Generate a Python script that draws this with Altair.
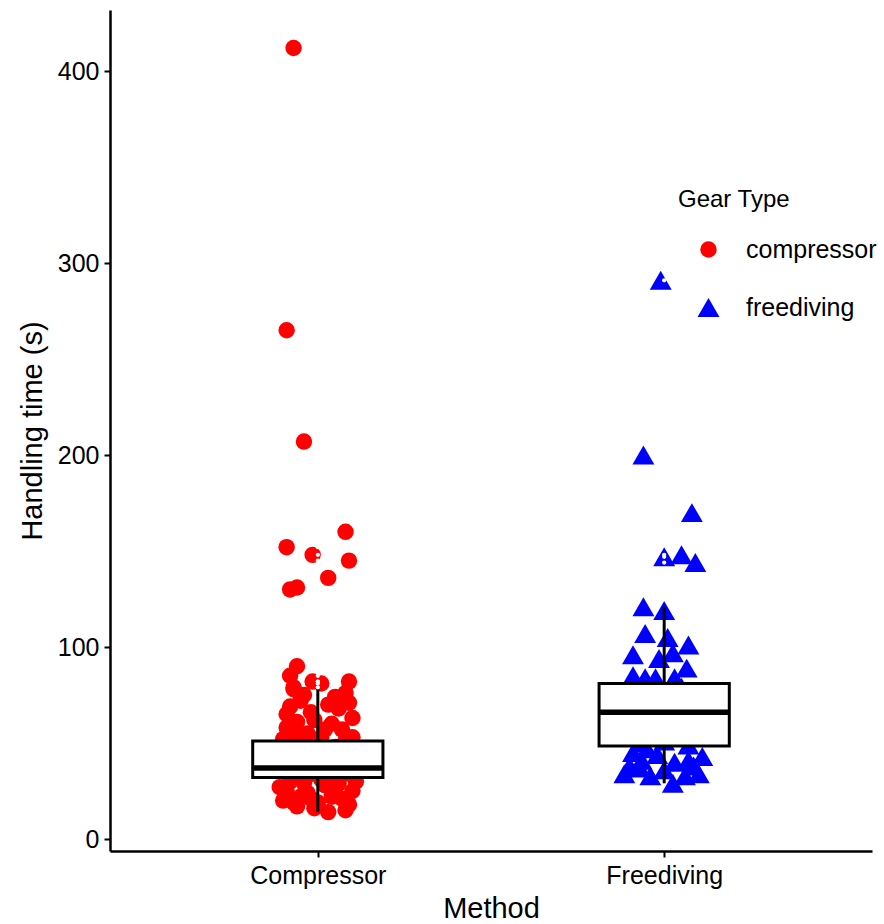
import altair as alt
import pandas as pd

methods = ["Compressor", "Freediving"]
gears = ["compressor", "freediving"]
gear_colors = ["#FF0000", "#0000FF"]

# jitter offsets (category units) and handling times
comp_jitter = [-0.07, -0.09, -0.04, 0.08, -0.09, -0.015, 0.09, 0.03, -0.06, -0.08,
               -0.06, -0.08, -0.015, 0.01, 0.09, -0.07,
               -0.07, 0.08, -0.09, 0.10, -0.09, 0.10, -0.05, 0.03, 0.06, -0.02,
               -0.06, 0.04, 0.07, -0.03, -0.10, 0.01, 0.09, -0.08, -0.01, 0.05,
               -0.04, 0.02, -0.06, 0.08,
               -0.08, 0.05, -0.02, 0.09, -0.06, 0.03, -0.10, 0.07, 0.00, -0.04,
               0.10, -0.07, 0.04, -0.01, 0.06, -0.09, 0.02, -0.05, 0.08, -0.03,
               0.01, -0.08, 0.05,
               -0.11, -0.10, -0.06, 0.04, 0.08, 0.10, 0.03, -0.08, -0.03, 0.00,
               0.06, -0.05, 0.09, -0.09, 0.02, 0.07, -0.01, 0.11, -0.07, 0.05,
               -0.04, 0.01, -0.02]
comp_time = [412, 265, 207, 160, 152, 148, 145, 136, 131, 130,
             90, 85, 82, 81, 82, 79,
             78, 76, 65, 63, 58, 53, 72, 70, 68, 66,
             61, 60, 57, 55, 52, 53, 71, 69, 62, 74,
             75, 57, 54, 51,
             49, 48, 47, 46, 45, 44, 43, 42, 41, 40,
             39, 38, 37, 37, 36, 36, 35, 35, 34, 33,
             33, 32, 32,
             27, 20, 17, 22, 15, 25, 14, 30, 24, 19,
             29, 22, 18, 25, 28, 21, 16, 30, 19, 26,
             29, 31, 21]

free_jitter = [-0.01, -0.06, 0.08, 0.00, 0.05, 0.09,
               -0.06, 0.00, -0.055, 0.01, 0.07, -0.09, -0.015, 0.025, 0.065,
               -0.09, -0.055, -0.025, 0.03,
               -0.08, 0.05, -0.03, 0.09, 0.00, -0.10, 0.06, -0.05, 0.03, -0.01,
               0.08, -0.07, 0.02, -0.04, 0.10, -0.09, 0.04, 0.00, -0.06, 0.07,
               -0.09, -0.065, -0.10, -0.04, 0.025, 0.10, 0.11, 0.07, 0.03, -0.07,
               -0.115, 0.06, 0.00, -0.02, 0.085, -0.05]
free_time = [291, 200, 170, 147, 148, 144,
             121, 119, 107, 105, 101, 96, 94, 97, 89,
             85, 84, 84, 84,
             80, 79, 77, 75, 73, 71, 70, 68, 67, 66,
             65, 63, 61, 59, 57, 55, 53, 51, 50, 49,
             45, 41, 38, 33, 29, 34, 43, 41, 40, 37,
             34, 33, 36, 44, 38, 47]

# boxplot statistics
whisker_low = [14, 29]
box_q1 = [32, 48.5]
box_median = [37, 66]
box_q3 = [51, 81]
whisker_high = [78, 121]

rows = []
for i, (jit, vals) in enumerate([(comp_jitter, comp_time), (free_jitter, free_time)]):
    for j, v in zip(jit, vals):
        rows.append({"pos": i + 1, "jit": j, "time": v, "gear": gears[i]})
points = pd.DataFrame(rows)

stats = pd.DataFrame({
    "pos": [1, 2],
    "lo": whisker_low,
    "q1": box_q1,
    "med": box_median,
    "q3": box_q3,
    "hi": whisker_high,
})

lo_map = dict(zip([1, 2], whisker_low))
hi_map = dict(zip([1, 2], whisker_high))
outliers = points[(points["time"] > points["pos"].map(hi_map)) |
                  (points["time"] < points["pos"].map(lo_map))]

FONT = "Liberation Sans"
xscale = alt.Scale(domain=[0.4, 2.6], nice=False, zero=False)
yscale = alt.Scale(domain=[-6.25, 431.8], nice=False, zero=False)

label_expr = "[" + ",".join("'%s'" % m for m in methods) + "][datum.value - 1]"

legend = alt.Legend(title="Gear Type", orient="none", legendX=568, legendY=178,
                    symbolOffset=18, labelOffset=25, rowPadding=32, titlePadding=25,
                    symbolStrokeWidth=0)

pts = alt.Chart(points).transform_calculate(
    xp="datum.pos + datum.jit"
).mark_point(filled=True, opacity=1, strokeWidth=0).encode(
    x=alt.X("xp:Q", scale=xscale,
            axis=alt.Axis(values=[1, 2], labelExpr=label_expr, title="Method")),
    y=alt.Y("time:Q", scale=yscale,
            axis=alt.Axis(values=[0, 100, 200, 300, 400], title="Handling time (s)")),
    color=alt.Color("gear:N", scale=alt.Scale(domain=gears, range=gear_colors), legend=legend),
    shape=alt.Shape("gear:N", scale=alt.Scale(domain=gears, range=["circle", "triangle-up"]), legend=legend),
    size=alt.Size("gear:N", scale=alt.Scale(domain=gears, range=[270, 480]), legend=legend),
)

box = alt.Chart(stats).transform_calculate(
    l="datum.pos - 0.188", r="datum.pos + 0.188"
).mark_rect(fill="white", stroke="black", strokeWidth=3).encode(
    x=alt.X("l:Q", scale=xscale), x2="r:Q",
    y=alt.Y("q1:Q", scale=yscale), y2="q3:Q",
)

whisk_low = alt.Chart(stats).mark_rule(color="black", strokeWidth=3).encode(
    x=alt.X("pos:Q", scale=xscale), y=alt.Y("lo:Q", scale=yscale), y2="q1:Q"
)
whisk_high = alt.Chart(stats).mark_rule(color="black", strokeWidth=3).encode(
    x=alt.X("pos:Q", scale=xscale), y=alt.Y("q3:Q", scale=yscale), y2="hi:Q"
)
median = alt.Chart(stats).transform_calculate(
    l="datum.pos - 0.188", r="datum.pos + 0.188"
).mark_rule(color="black", strokeWidth=5.5).encode(
    x=alt.X("l:Q", scale=xscale), x2="r:Q", y=alt.Y("med:Q", scale=yscale)
)
out_dots = alt.Chart(outliers).mark_circle(color="white", size=18, opacity=1).encode(
    x=alt.X("pos:Q", scale=xscale), y=alt.Y("time:Q", scale=yscale)
)

chart = alt.layer(pts, box, whisk_low, whisk_high, median, out_dots).properties(
    width=762, height=841,
    padding={"left": 110, "top": 10, "right": 12, "bottom": 73},
    autosize=alt.AutoSizeParams(type="none"),
).configure_view(stroke=None).configure_axis(
    grid=False,
    domainColor="black", domainWidth=2.5,
    tickColor="black", tickWidth=2, tickSize=6,
    labelFont=FONT, labelFontSize=25, labelColor="black", labelPadding=6,
    titleFont=FONT, titleFontSize=29, titleFontWeight="normal", titleColor="black",
).configure_axisY(titlePadding=10, labelPadding=5).configure_axisX(titlePadding=6).configure_legend(
    titleFont=FONT, titleFontSize=24, titleFontWeight="normal", titleColor="black",
    labelFont=FONT, labelFontSize=25, labelColor="black",
)

chart.save("out.html", embed_options={"renderer": "svg", "actions": False})
